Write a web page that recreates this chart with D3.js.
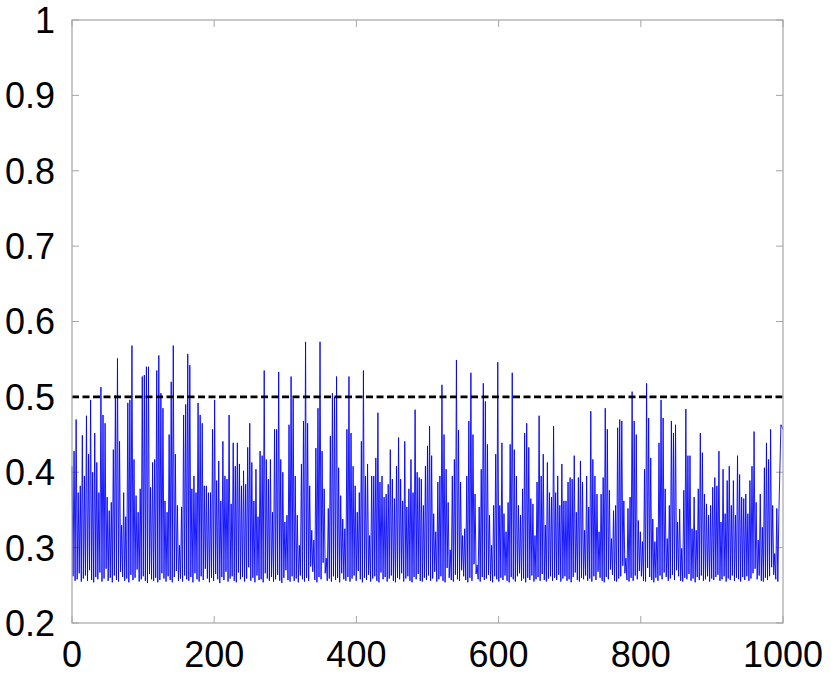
<!DOCTYPE html>
<html>
<head>
<meta charset="utf-8">
<script src="https://cdn.jsdelivr.net/npm/d3@7/dist/d3.min.js"></script>
<style>
  body { margin: 0; background: #fff; }
  svg text { font-family: "Liberation Sans", Arial, sans-serif; fill: #000; }
</style>
</head>
<body>
<div id="chart"></div>
<script>
// valores: picos de cada ciclo y mínimos entre ellos
const peaks = [
  0.408,0.428,0.470,0.373,0.382,0.449,0.395,0.475,0.424,0.496,0.400,0.452,0.413,0.373,0.513,0.476,0.465,0.367,0.349,0.360,
  0.430,0.502,0.551,0.441,0.330,0.373,0.341,0.492,0.496,0.568,0.417,0.369,0.347,0.378,0.527,0.529,0.540,0.540,0.380,0.413,
  0.417,0.535,0.555,0.505,0.485,0.362,0.347,0.450,0.520,0.568,0.424,0.356,0.303,0.354,0.476,0.490,0.557,
  0.542,0.378,0.395,0.373,0.492,0.476,0.465,0.382,0.382,0.373,0.373,0.457,0.496,0.389,0.415,0.362,0.441,0.395,0.391,0.476,
  0.358,0.439,0.408,0.439,0.411,0.382,0.402,0.384,0.433,0.465,0.413,0.362,0.404,0.341,0.428,0.422,0.535,0.417,0.391,0.417,
  0.347,0.457,0.457,0.533,0.417,0.400,0.334,0.343,0.463,0.527,0.498,0.395,0.343,0.303,0.411,0.468,0.573,
  0.465,0.382,0.323,0.310,0.432,0.485,0.573,0.428,0.378,0.286,0.352,0.448,0.505,0.500,0.527,0.406,0.369,0.338,0.325,0.457,
  0.527,0.452,0.408,0.382,0.347,0.373,0.441,0.535,0.395,0.411,0.316,0.395,0.395,0.419,0.479,0.387,0.395,0.367,0.371,0.384,
  0.430,0.391,0.365,0.408,0.446,0.391,0.362,0.441,0.354,0.378,0.417,0.373,0.483,0.400,0.393,0.391,0.356,0.408,0.435,
  0.461,0.422,0.345,0.321,0.387,0.395,0.516,0.450,0.404,0.360,0.297,0.395,0.417,0.549,0.456,0.387,0.316,0.325,0.395,0.468,
  0.532,0.450,0.371,0.277,0.354,0.404,0.518,0.494,0.437,0.343,0.303,0.356,0.424,0.546,0.356,0.439,0.345,0.321,0.360,0.437,
  0.532,0.430,0.395,0.356,0.343,0.378,0.452,0.465,0.433,0.365,0.358,0.316,0.387,0.475,0.395,0.424,0.330,0.413,
  0.373,0.367,0.461,0.373,0.395,0.356,0.411,0.362,0.362,0.387,0.393,0.391,0.422,0.347,0.393,0.415,0.387,0.323,0.395,0.354,
  0.481,0.417,0.395,0.371,0.321,0.371,0.393,0.485,0.457,0.376,0.312,0.349,0.356,0.459,0.470,0.468,0.362,0.286,0.352,0.367,
  0.507,0.468,0.450,0.336,0.321,0.308,0.404,0.518,0.472,0.419,0.338,0.308,0.327,0.439,0.496,0.472,0.378,0.312,
  0.356,0.468,0.452,0.463,0.334,0.351,0.299,0.376,0.484,0.422,0.422,0.325,0.367,0.323,0.378,0.452,0.426,0.371,0.358,0.343,
  0.356,0.380,0.393,0.382,0.428,0.334,0.404,0.345,0.389,0.408,0.356,0.389,0.343,0.422,0.397,0.367,0.365,0.371,0.345,0.389,
  0.408,0.454,0.360,0.310,0.371,0.327,0.406,0.439,0.417,0.457,0.356,0.292,0.352,0.345,0.463,0.457
];

const troughs = [
  0.262,0.256,0.258,0.266,0.255,0.259,0.263,0.256,0.270,0.257,0.254,0.261,0.258,0.267,0.255,0.259,0.272,0.256,0.260,0.254,
  0.263,0.257,0.255,0.268,0.261,0.256,0.259,0.254,0.264,0.257,0.260,0.271,0.255,0.258,0.262,0.256,0.253,0.265,0.258,0.256,
  0.260,0.254,0.257,0.266,0.259,0.255,0.262,0.257,0.254,0.261,0.269,0.256,0.259,0.255,0.263,0.258,
  0.256,0.261,0.254,0.266,0.258,0.255,0.262,0.257,0.272,0.259,0.254,0.260,0.256,0.265,0.258,0.253,0.261,0.257,0.268,0.255,
  0.259,0.262,0.256,0.254,0.267,0.258,0.261,0.255,0.259,0.274,0.256,0.260,0.254,0.263,0.257,0.258,0.254,0.266,0.259,0.256,
  0.261,0.255,0.258,0.264,0.256,0.253,0.260,0.270,0.257,0.255,0.262,0.256,0.259,0.254,0.263,0.258,0.255,
  0.260,0.256,0.275,0.268,0.257,0.254,0.261,0.258,0.280,0.266,0.256,0.259,0.255,0.262,0.257,0.260,0.254,0.266,0.258,0.256,
  0.261,0.255,0.259,0.263,0.256,0.269,0.258,0.254,0.260,0.257,0.264,0.255,0.259,0.262,0.256,0.254,0.267,0.258,0.261,0.255,
  0.259,0.263,0.256,0.254,0.260,0.258,0.266,0.255,0.259,0.262,0.256,0.254,0.261,0.258,0.265,0.256,0.255,0.260,0.257,
  0.263,0.256,0.259,0.268,0.255,0.258,0.262,0.256,0.254,0.273,0.260,0.257,0.255,0.264,0.258,0.256,0.270,0.262,0.257,0.254,
  0.260,0.256,0.278,0.265,0.258,0.255,0.261,0.257,0.259,0.264,0.256,0.254,0.262,0.258,0.255,0.260,0.257,0.263,0.256,0.254,
  0.261,0.258,0.255,0.262,0.266,0.256,0.259,0.254,0.260,0.257,0.263,0.255,0.258,0.261,0.256,0.265,0.257,0.255,
  0.259,0.262,0.256,0.260,0.257,0.264,0.255,0.259,0.262,0.256,0.258,0.254,0.261,0.267,0.257,0.255,0.260,0.258,0.263,0.256,
  0.259,0.255,0.262,0.257,0.268,0.260,0.256,0.254,0.261,0.258,0.271,0.264,0.256,0.255,0.259,0.262,0.276,0.266,0.257,0.255,
  0.260,0.256,0.263,0.258,0.269,0.262,0.256,0.255,0.273,0.261,0.257,0.254,0.260,0.256,0.263,0.258,0.267,
  0.261,0.256,0.259,0.264,0.257,0.270,0.262,0.256,0.255,0.260,0.258,0.265,0.256,0.259,0.254,0.261,0.257,0.263,0.256,0.258,
  0.262,0.255,0.259,0.257,0.261,0.264,0.256,0.258,0.262,0.255,0.259,0.257,0.263,0.256,0.260,0.258,0.255,0.261,0.257,0.262,
  0.256,0.259,0.266,0.272,0.258,0.263,0.256,0.255,0.260,0.257,0.262,0.274,0.264,0.258,0.255
];

const xTicks = [0, 200, 400, 600, 800, 1000];
const yTicks = [0.2, 0.3, 0.4, 0.5, 0.6, 0.7, 0.8, 0.9, 1];
const threshold = 0.5;

const width = 831, height = 674;
const margin = { top: 20, right: 48, bottom: 51, left: 72 };
const innerW = width - margin.left - margin.right;
const innerH = height - margin.top - margin.bottom;

// serie intercalada: pico, mínimo, pico, ...
const series = [];
const step = 1000 / (peaks.length - 1);
peaks.forEach((p, i) => {
  series.push({ x: i * step, y: p });
  if (i < peaks.length - 1 && i < troughs.length) {
    series.push({ x: i * step + step / 2, y: troughs[i] });
  }
});

const x = d3.scaleLinear().domain([0, 1000]).range([0, innerW]);
const y = d3.scaleLinear().domain([0.2, 1]).range([innerH, 0]);

const svg = d3.select('#chart').append('svg')
  .attr('width', width)
  .attr('height', height);

const g = svg.append('g').attr('transform', `translate(${margin.left},${margin.top})`);

const tickColor = '#a6a6a6';
const tickLen = 7;

// ticks hacia dentro en los cuatro lados
const tickG = g.append('g');
xTicks.forEach(t => {
  tickG.append('line').attr('x1', x(t)).attr('x2', x(t)).attr('y1', innerH).attr('y2', innerH - tickLen)
    .attr('stroke', tickColor).attr('stroke-width', 1);
  tickG.append('line').attr('x1', x(t)).attr('x2', x(t)).attr('y1', 0).attr('y2', tickLen)
    .attr('stroke', tickColor).attr('stroke-width', 1);
});
yTicks.forEach(t => {
  tickG.append('line').attr('x1', 0).attr('x2', tickLen).attr('y1', y(t)).attr('y2', y(t))
    .attr('stroke', tickColor).attr('stroke-width', 1);
  tickG.append('line').attr('x1', innerW).attr('x2', innerW - tickLen).attr('y1', y(t)).attr('y2', y(t))
    .attr('stroke', tickColor).attr('stroke-width', 1);
});

// línea de datos
const line = d3.line().x(d => x(d.x)).y(d => y(d.y));
g.append('path')
  .datum(series)
  .attr('fill', 'none')
  .attr('stroke', '#0000ff')
  .attr('stroke-width', 0.9)
  .attr('stroke-linejoin', 'miter')
  .attr('d', line);

// umbral discontinuo
g.append('line')
  .attr('x1', x(0)).attr('x2', x(1000))
  .attr('y1', y(threshold)).attr('y2', y(threshold))
  .attr('stroke', '#000')
  .attr('stroke-width', 2.8)
  .attr('stroke-dasharray', '7,3.5');

// marco
g.append('rect')
  .attr('x', 0).attr('y', 0)
  .attr('width', innerW).attr('height', innerH)
  .attr('fill', 'none')
  .attr('stroke', tickColor)
  .attr('stroke-width', 1.2);

// etiquetas
g.selectAll('.xlabel')
  .data(xTicks)
  .join('text')
  .attr('class', 'xlabel')
  .attr('x', d => x(d))
  .attr('y', innerH + 44)
  .attr('text-anchor', 'middle')
  .attr('font-size', '36px')
  .text(d => d);

g.selectAll('.ylabel')
  .data(yTicks)
  .join('text')
  .attr('class', 'ylabel')
  .attr('x', -17)
  .attr('y', d => y(d))
  .attr('dy', '0.36em')
  .attr('text-anchor', 'end')
  .attr('font-size', '36px')
  .text(d => d);
</script>
</body>
</html>
